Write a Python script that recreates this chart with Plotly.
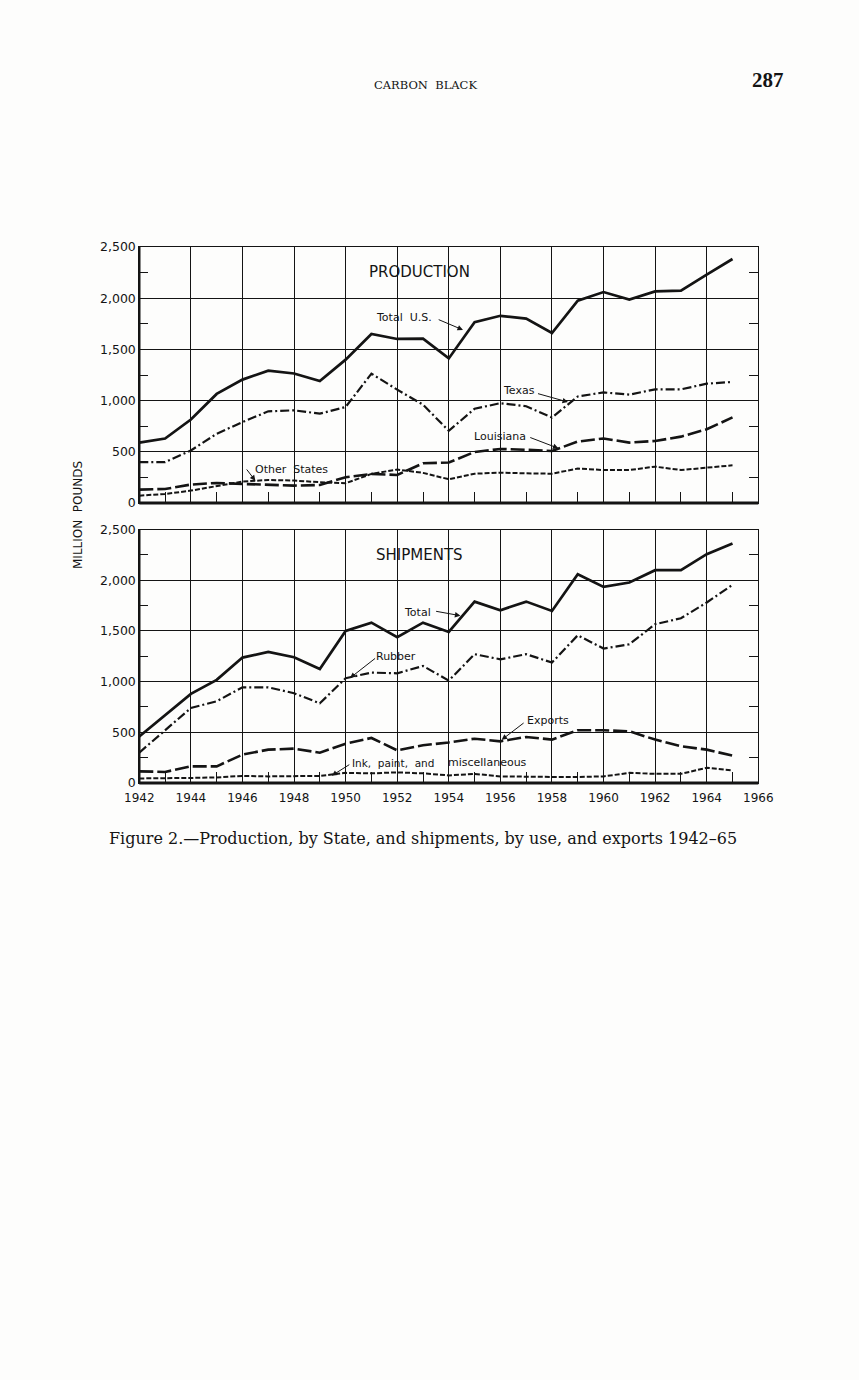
import plotly.graph_objects as go

years = [1942, 1943, 1944, 1945, 1946, 1947, 1948, 1949, 1950, 1951, 1952, 1953,
         1954, 1955, 1956, 1957, 1958, 1959, 1960, 1961, 1962, 1963, 1964, 1965]

# Production (million pounds)
total_us = [590, 630, 815, 1065, 1205, 1292, 1265, 1192, 1400, 1650, 1602, 1605,
            1412, 1765, 1828, 1800, 1660, 1975, 2060, 1987, 2066, 2073, 2230, 2383]
texas = [400, 400, 513, 676, 791, 895, 905, 873, 938, 1263, 1107, 960,
         705, 920, 975, 945, 835, 1040, 1080, 1058, 1110, 1110, 1165, 1182]
louisiana = [131, 137, 180, 196, 186, 180, 170, 176, 252, 284, 274, 388,
             395, 498, 528, 520, 508, 600, 630, 590, 606, 648, 720, 836]
other_states = [72, 88, 121, 163, 209, 225, 219, 203, 193, 284, 327, 294,
                232, 286, 296, 290, 286, 336, 322, 322, 355, 322, 346, 368]

# Shipments (million pounds)
total_ship = [459, 673, 879, 1017, 1237, 1293, 1240, 1125, 1499, 1581, 1437, 1581,
              1490, 1789, 1704, 1789, 1697, 2059, 1934, 1977, 2099, 2099, 2257, 2362]
rubber = [300, 520, 740, 806, 944, 944, 885, 786, 1033, 1089, 1082, 1154,
          1010, 1270, 1220, 1270, 1188, 1457, 1326, 1368, 1566, 1625, 1780, 1954]
exports = [115, 109, 164, 164, 280, 329, 339, 299, 388, 444, 322, 372,
           400, 437, 411, 454, 428, 520, 520, 510, 428, 362, 329, 270]
ink_paint_misc = [45, 45, 50, 55, 70, 65, 65, 70, 100, 95, 105, 95,
                  75, 90, 65, 60, 60, 60, 65, 100, 90, 90, 150, 125]

INK = "#141414"
SANS = "DejaVu Sans"
SERIF = "DejaVu Serif"

SOLID = dict(color=INK, width=2.7, dash="solid")
DASHDOT = dict(color=INK, width=2.2, dash="9px,3px,2px,3px")
LONGDASH = dict(color=INK, width=2.6, dash="14px,4px")
SHORTDASH = dict(color=INK, width=2.0, dash="5px,2px")

fig = go.Figure()

def add(y, line, xa, ya):
    fig.add_trace(go.Scatter(x=years, y=y, mode="lines", line=line,
                             xaxis=xa, yaxis=ya, showlegend=False, hoverinfo="skip"))

add(total_us, SOLID, "x", "y")
add(texas, DASHDOT, "x", "y")
add(louisiana, LONGDASH, "x", "y")
add(other_states, SHORTDASH, "x", "y")

add(total_ship, SOLID, "x2", "y2")
add(rubber, DASHDOT, "x2", "y2")
add(exports, LONGDASH, "x2", "y2")
add(ink_paint_misc, SHORTDASH, "x2", "y2")

W, H = 859, 1380
xdom = [139.3 / W, 758.3 / W]
ydom_top = [1 - 503 / H, 1 - 247 / H]
ydom_bot = [1 - 783 / H, 1 - 529.5 / H]

def xax(show_labels, anchor):
    return dict(domain=xdom, range=[1942, 1966], anchor=anchor,
                tickmode="linear", tick0=1942, dtick=2,
                showticklabels=show_labels, ticks="", ticklabelstandoff=4,
                tickfont=dict(family=SANS, size=12, color=INK),
                showgrid=True, gridcolor=INK, gridwidth=1,
                zeroline=False, showline=True, linecolor=INK, linewidth=1,
                mirror=True,
                minor=dict(tick0=1942, dtick=1, ticks="inside", ticklen=11,
                           tickwidth=1, tickcolor=INK, showgrid=False))

def yax(dom, anchor):
    return dict(domain=dom, range=[0, 2500], anchor=anchor,
                tickmode="linear", tick0=0, dtick=500, tickformat=",d",
                ticks="", tickfont=dict(family=SANS, size=12.5, color=INK),
                showgrid=True, gridcolor=INK, gridwidth=1,
                zeroline=False, showline=True, linecolor=INK, linewidth=1,
                mirror="ticks",
                minor=dict(tick0=0, dtick=250, ticks="inside", ticklen=9,
                           tickwidth=1, tickcolor=INK, showgrid=False))

fig.update_layout(
    width=W, height=H, autosize=False,
    margin=dict(l=0, r=0, t=0, b=0, pad=0, autoexpand=False),
    paper_bgcolor="#fdfdfc", plot_bgcolor="#fdfdfc",
    xaxis=xax(False, "y"), yaxis=yax(ydom_top, "x"),
    xaxis2=xax(True, "y2"), yaxis2=yax(ydom_bot, "x2"),
    showlegend=False,
)

# heavier left and bottom frame lines
for xr, yr in (("x", "y"), ("x2", "y2")):
    fig.add_shape(type="line", xref=xr + " domain", yref=yr + " domain",
                  x0=0, x1=0, y0=0, y1=1, line=dict(color=INK, width=2.4))
    fig.add_shape(type="line", xref=xr + " domain", yref=yr + " domain",
                  x0=0, x1=1, y0=0, y1=0, line=dict(color=INK, width=2.8))

def label(text, x, y, xr, yr, size=11):
    fig.add_annotation(text=text, x=x, y=y, xref=xr, yref=yr, showarrow=False,
                       xanchor="center", yanchor="middle",
                       font=dict(family=SANS, size=size, color=INK))

def arrow(x, y, ax, ay, xr, yr):
    fig.add_annotation(text="", x=x, y=y, ax=ax, ay=ay, xref=xr, yref=yr,
                       axref=xr, ayref=yr, showarrow=True, arrowhead=2,
                       arrowsize=1.1, arrowwidth=1.0, arrowcolor=INK)

# Production panel labels
label("PRODUCTION", 1952.88, 2256, "x", "y", size=15)
label("Total  U.S.", 1952.25, 1816, "x", "y")
arrow(1954.55, 1690, 1953.55, 1797, "x", "y")
label("Texas", 1956.72, 1094, "x", "y")
arrow(1958.62, 986, 1957.4, 1072, "x", "y")
label("Louisiana", 1955.97, 654, "x", "y")
arrow(1958.25, 534, 1957.1, 645, "x", "y")
label("Other  States", 1947.9, 332, "x", "y")
arrow(1946.5, 218, 1946.12, 342, "x", "y")

# Shipments panel labels
label("SHIPMENTS", 1952.87, 2247, "x2", "y2", size=15)
label("Total", 1952.77, 1686, "x2", "y2")
arrow(1954.45, 1650, 1953.45, 1696, "x2", "y2")
label("Rubber", 1951.95, 1243, "x2", "y2")
arrow(1950.17, 1035, 1951.2, 1240, "x2", "y2")
label("Exports", 1957.84, 613, "x2", "y2")
arrow(1956.05, 426, 1956.96, 603, "x2", "y2")
label("Ink,  paint,  and", 1951.82, 200, "x2", "y2", size=10.5)
label("miscellaneous", 1955.51, 207, "x2", "y2")
arrow(1949.46, 72, 1950.2, 190, "x2", "y2")

# page texts
def page_text(text, xpx, ypx, family, size, angle=0):
    fig.add_annotation(text=text, x=xpx / W, y=1 - ypx / H,
                       xref="paper", yref="paper", showarrow=False,
                       xanchor="center", yanchor="middle", textangle=angle,
                       font=dict(family=family, size=size, color=INK))

page_text("MILLION  POUNDS", 78, 515, SANS, 12, angle=-90)
page_text("CARBON  BLACK", 425, 85, SERIF, 11.5)
page_text("<b>287</b>", 768, 80, "Liberation Serif", 21)
page_text("Figure 2.\u2014Production, by State, and shipments, by use, and exports 1942\u201365",
          423, 838, SERIF, 16)

fig.write_html(
    "out.html",
    config={"displayModeBar": False, "staticPlot": True},
    post_script="document.body.style.margin='0';document.body.style.overflow='hidden';",
)
